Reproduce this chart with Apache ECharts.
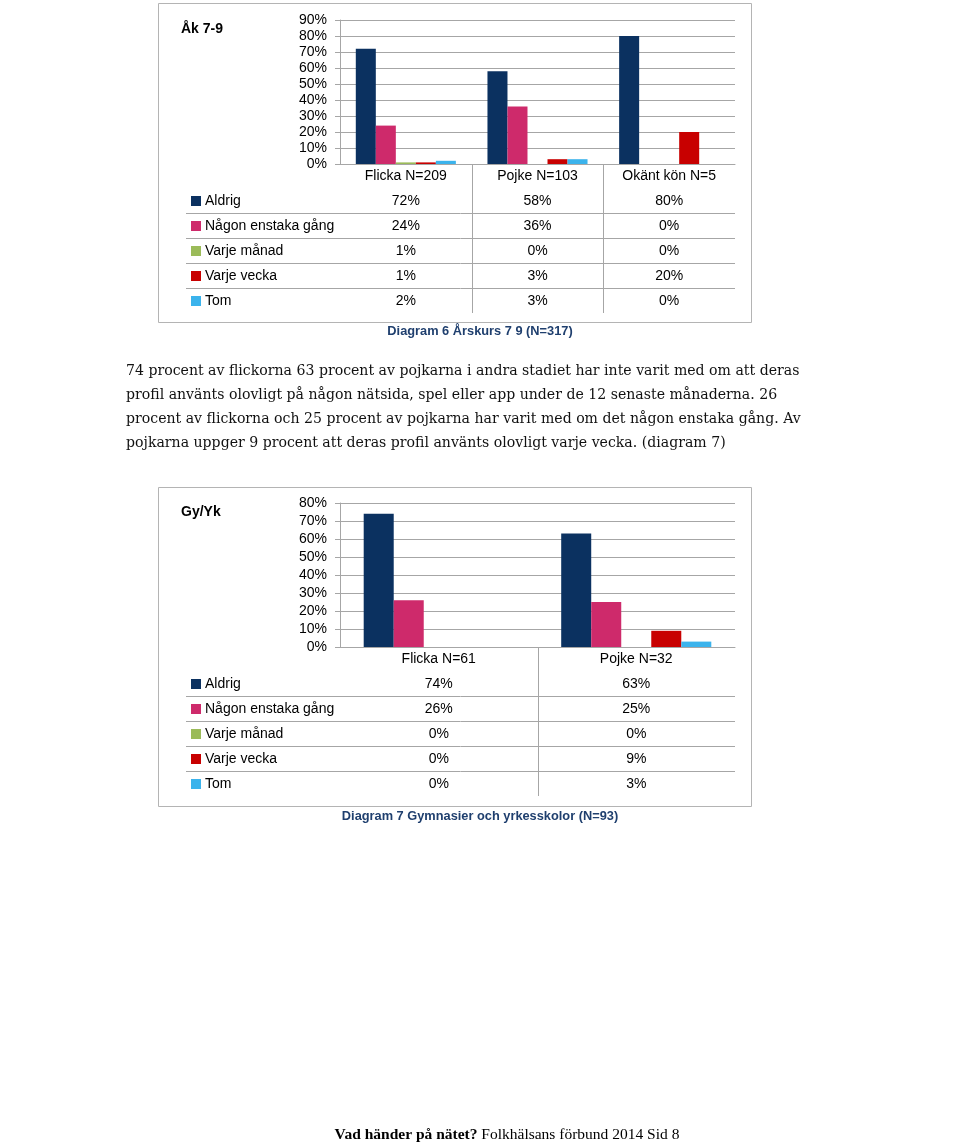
<!DOCTYPE html>
<html>
<head>
<meta charset="utf-8">
<script src="https://cdn.jsdelivr.net/npm/echarts@6/dist/echarts.min.js"></script>
<style>
html,body{margin:0;padding:0;background:#fff;}
#c{width:960px;height:1145px;}
</style>
</head>
<body>
<div id="c"></div>
<script>
// ---- data ----
const seriesNames = ['Aldrig', 'Någon enstaka gång', 'Varje månad', 'Varje vecka', 'Tom'];
const colors = ['#0B3160', '#CE2A6B', '#9BBB59', '#C80000', '#3BB3EC'];

const cats1 = ['Flicka N=209', 'Pojke N=103', 'Okänt kön N=5'];
const aldrig1 = [72, 58, 80];
const nagon1 = [24, 36, 0];
const manad1 = [1, 0, 0];
const vecka1 = [1, 3, 20];
const tom1 = [2, 3, 0];

const cats2 = ['Flicka N=61', 'Pojke N=32'];
const aldrig2 = [74, 63];
const nagon2 = [26, 25];
const manad2 = [0, 0];
const vecka2 = [0, 9];
const tom2 = [0, 3];

const yMax1 = 90, yMax2 = 80, yStep = 10;

const title1 = 'Åk 7-9';
const title2 = 'Gy/Yk';
const caption1 = 'Diagram 6 Årskurs 7 9 (N=317)';
const caption2 = 'Diagram 7 Gymnasier och yrkesskolor (N=93)';
const paragraph = [
  '74 procent av flickorna 63 procent av pojkarna i andra stadiet har inte varit med om att deras',
  'profil använts olovligt på någon nätsida, spel eller app under de 12 senaste månaderna. 26',
  'procent av flickorna och 25 procent av pojkarna har varit med om det någon enstaka gång. Av',
  'pojkarna uppger 9 procent att deras profil använts olovligt varje vecka. (diagram 7)'
];
const footerBold = 'Vad händer på nätet?';
const footerRest = ' Folkhälsans förbund 2014 Sid 8';

const data1 = [aldrig1, nagon1, manad1, vecka1, tom1];
const data2 = [aldrig2, nagon2, manad2, vecka2, tom2];

const SANS = '"Liberation Sans", Arial, sans-serif';
const SERIF = '"Liberation Serif", "Times New Roman", serif';
const PSERIF = '"DejaVu Serif", serif';
const GRID = '#A6A6A6';

function yAxis(idx, max) {
  return {
    type: 'value', gridIndex: idx, min: 0, max: max, interval: yStep,
    axisLine: {show: true, lineStyle: {color: GRID}},
    axisTick: {show: true, length: 5, lineStyle: {color: GRID}},
    splitLine: {lineStyle: {color: GRID, width: 1}},
    axisLabel: {formatter: '{value}%', color: '#000', fontFamily: SANS, fontSize: 14, margin: 13}
  };
}
function xAxis(idx, cats) {
  return {
    type: 'category', gridIndex: idx, data: cats,
    axisLine: {show: true, lineStyle: {color: GRID}},
    axisTick: {show: false},
    axisLabel: {color: '#000', fontFamily: SANS, fontSize: 14, margin: 5}
  };
}
const series = [];
seriesNames.forEach((n, i) => {
  series.push({name: n, type: 'bar', xAxisIndex: 0, yAxisIndex: 0, data: data1[i],
    itemStyle: {color: colors[i]}, barGap: '0%', barCategoryGap: '24%', silent: true});
});
seriesNames.forEach((n, i) => {
  series.push({name: n, type: 'bar', xAxisIndex: 1, yAxisIndex: 1, data: data2[i],
    itemStyle: {color: colors[i]}, barGap: '0%', barCategoryGap: '24%', silent: true});
});

const chart = echarts.init(document.getElementById('c'), null, {renderer: 'canvas'});
chart.setOption({
  animation: false,
  backgroundColor: '#fff',
  grid: [
    {left: 340, top: 20, width: 395, height: 144},
    {left: 340, top: 503, width: 395, height: 144}
  ],
  xAxis: [xAxis(0, cats1), xAxis(1, cats2)],
  yAxis: [yAxis(0, yMax1), yAxis(1, yMax2)],
  series: series
});

function buildTable(xIdx, cats, data, axisY, boxTop, boxBottom) {
  const els = [];
  const px = cats.map(c => chart.convertToPixel({xAxisIndex: xIdx}, c));
  const half = px.length > 1 ? (px[1] - px[0]) / 2 : 100;
  const plotRight = px[px.length - 1] + half;
  const row0 = axisY + 37, rowH = 25;
  for (let k = 0; k < px.length - 1; k++) {
    const x = Math.round((px[k] + px[k + 1]) / 2) + 0.5;
    els.push({type: 'line', shape: {x1: x, y1: axisY, x2: x, y2: row0 + rowH * (seriesNames.length - 1) + 12},
      style: {stroke: GRID, lineWidth: 1}, silent: true});
  }
  seriesNames.forEach((n, i) => {
    const y = row0 + rowH * i;
    if (i < seriesNames.length - 1) {
      const ly = Math.round(y + 12) + 0.5;
      els.push({type: 'line', shape: {x1: 186, y1: ly, x2: plotRight, y2: ly},
        style: {stroke: GRID, lineWidth: 1}, silent: true});
    }
    els.push({type: 'rect', shape: {x: 191, y: y - 5, width: 10, height: 10}, style: {fill: colors[i]}, silent: true});
    els.push({type: 'text', x: 205, y: y, style: {text: n, fill: '#000', font: '14px ' + SANS, textVerticalAlign: 'middle'}, silent: true});
    data[i].forEach((v, j) => {
      els.push({type: 'text', x: px[j], y: y, style: {text: v + '%', fill: '#000', font: '14px ' + SANS,
        textAlign: 'center', textVerticalAlign: 'middle'}, silent: true});
    });
  });
  els.push({type: 'rect', shape: {x: 158.5, y: boxTop + 0.5, width: 593, height: boxBottom - boxTop},
    style: {fill: null, stroke: '#B4B4B4', lineWidth: 1}, silent: true, z: -1});
  return els;
}

const g = [];
g.push(...buildTable(0, cats1, data1, 164, 3, 322));
g.push(...buildTable(1, cats2, data2, 647, 487, 806));
g.push({type: 'text', x: 181, y: 29, style: {text: title1, fill: '#000', font: 'bold 14px ' + SANS, textVerticalAlign: 'middle'}});
g.push({type: 'text', x: 181, y: 512, style: {text: title2, fill: '#000', font: 'bold 14px ' + SANS, textVerticalAlign: 'middle'}});
g.push({type: 'text', x: 480, y: 331, style: {text: caption1, fill: '#1F3F6E', font: 'bold 12.8px ' + SANS, textAlign: 'center', textVerticalAlign: 'middle'}});
g.push({type: 'text', x: 480, y: 816, style: {text: caption2, fill: '#1F3F6E', font: 'bold 12.8px ' + SANS, textAlign: 'center', textVerticalAlign: 'middle'}});
paragraph.forEach((line, i) => {
  g.push({type: 'text', x: 126, y: 371 + 24 * i, style: {text: line, fill: '#111', font: '14.1px ' + PSERIF, textVerticalAlign: 'middle'}});
});
g.push({type: 'text', x: 507, y: 1135, style: {
  text: '{b|' + footerBold + '}{r|' + footerRest + '}', textAlign: 'center', textVerticalAlign: 'middle',
  rich: {b: {font: 'bold 15.5px ' + SERIF, fill: '#000'}, r: {font: '15.5px ' + SERIF, fill: '#000'}}
}});
chart.setOption({graphic: {elements: g}});
</script>
</body>
</html>
